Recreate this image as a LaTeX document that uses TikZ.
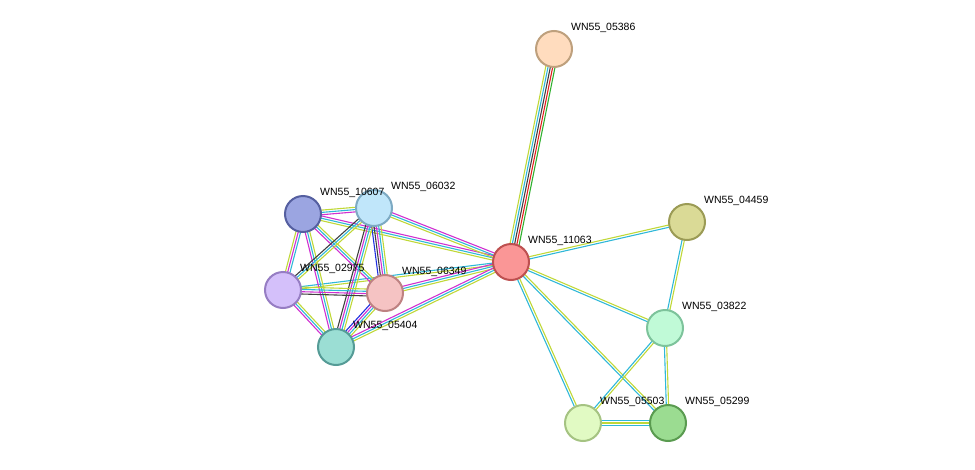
\documentclass[tikz,border=0pt]{standalone}
\usepackage{fontspec}
\setmainfont{Liberation Sans}
\usetikzlibrary{calc}
\definecolor{cmag}{HTML}{D030D0}
\definecolor{ccya}{HTML}{30B8D8}
\definecolor{cyel}{HTML}{C0D838}
\definecolor{cblk}{HTML}{404040}
\definecolor{cblu}{HTML}{2030E0}
\definecolor{cgrn}{HTML}{30B030}
\definecolor{cred}{HTML}{E02020}
\tikzset{
  prot/.style={circle,minimum size=36pt,inner sep=0pt,line width=2pt},
  lbl/.style={anchor=west,font=\fontsize{10.5}{12}\selectfont,inner sep=0pt}
}
% #1,#2 nodes, #3 number of lines, #4 colour list
\newcommand{\edge}[4]{%
  \foreach \c [count=\i] in {#4}{%
    \pgfmathsetmacro{\o}{(\i-(#3+1)/2)*2.3}
    \draw[\c,line width=1.1pt] ($(#1)!\o pt!90:(#2)$) -- ($(#2)!\o pt!-90:(#1)$);
  }}
\begin{document}
\begin{tikzpicture}[x=1pt,y=-1pt]
\useasboundingbox (0,0) rectangle (975,469);

\coordinate (n11063) at (511,262);
\coordinate (n05386) at (554,49);
\coordinate (n04459) at (687,222);
\coordinate (n10607) at (303,214);
\coordinate (n06032) at (374,208);
\coordinate (n02975) at (283,290);
\coordinate (n06349) at (385,293);
\coordinate (n05404) at (336,347);
\coordinate (n03822) at (665,328);
\coordinate (n05503) at (583,423);
\coordinate (n05299) at (668,423);

% edges
\edge{n11063}{n05386}{5}{cgrn,cred,cblk,ccya,cyel}
\edge{n11063}{n04459}{2}{ccya,cyel}
\edge{n11063}{n03822}{2}{ccya,cyel}
\edge{n11063}{n05503}{2}{ccya,cyel}
\edge{n11063}{n05299}{2}{ccya,cyel}
\edge{n04459}{n03822}{2}{ccya,cyel}
\edge{n03822}{n05503}{2}{ccya,cyel}
\edge{n03822}{n05299}{2}{ccya,cyel}
\edge{n05503}{n05299}{3}{ccya,cyel,ccya}
\edge{n11063}{n10607}{3}{cmag,ccya,cyel}
\edge{n11063}{n06032}{3}{cmag,ccya,cyel}
\edge{n11063}{n02975}{2}{ccya,cyel}
\edge{n11063}{n06349}{3}{cmag,ccya,cyel}
\edge{n11063}{n05404}{3}{cmag,ccya,cyel}
\edge{n10607}{n06032}{3}{cmag,ccya,cyel}
\edge{n10607}{n02975}{3}{cyel,cmag,ccya}
\edge{n10607}{n06349}{3}{cmag,ccya,cyel}
\edge{n10607}{n05404}{3}{cmag,ccya,cyel}
\edge{n06032}{n02975}{3}{cblk,ccya,cyel}
\edge{n06032}{n06349}{5}{cblu,cblk,cmag,ccya,cyel}
\edge{n06032}{n05404}{4}{cblk,cmag,ccya,cyel}
\edge{n02975}{n06349}{4}{cblk,cmag,ccya,cyel}
\edge{n02975}{n05404}{3}{cmag,ccya,cyel}
\edge{n06349}{n05404}{4}{cblu,cmag,ccya,cyel}

% proteins
\node[prot,fill={rgb,255:red,250;green,150;blue,150},draw={rgb,255:red,190;green,80;blue,80}] (p11063) at (n11063) {};
\node[prot,fill={rgb,255:red,255;green,220;blue,190},draw={rgb,255:red,190;green,160;blue,125}] (p05386) at (n05386) {};
\node[prot,fill={rgb,255:red,218;green,218;blue,150},draw={rgb,255:red,155;green,155;blue,85}] (p04459) at (n04459) {};
\node[prot,fill={rgb,255:red,155;green,165;blue,225},draw={rgb,255:red,85;green,95;blue,160}] (p10607) at (n10607) {};
\node[prot,fill={rgb,255:red,192;green,230;blue,250},draw={rgb,255:red,125;green,170;blue,195}] (p06032) at (n06032) {};
\node[prot,fill={rgb,255:red,212;green,192;blue,250},draw={rgb,255:red,150;green,125;blue,195}] (p02975) at (n02975) {};
\node[prot,fill={rgb,255:red,245;green,195;blue,195},draw={rgb,255:red,190;green,130;blue,130}] (p06349) at (n06349) {};
\node[prot,fill={rgb,255:red,155;green,222;blue,212},draw={rgb,255:red,85;green,155;blue,150}] (p05404) at (n05404) {};
\node[prot,fill={rgb,255:red,192;green,250;blue,215},draw={rgb,255:red,125;green,195;blue,155}] (p03822) at (n03822) {};
\node[prot,fill={rgb,255:red,225;green,250;blue,195},draw={rgb,255:red,165;green,195;blue,130}] (p05503) at (n05503) {};
\node[prot,fill={rgb,255:red,155;green,220;blue,145},draw={rgb,255:red,90;green,155;blue,80}] (p05299) at (n05299) {};

% labels
\foreach \n in {11063,05386,04459,10607,06032,02975,06349,05404,03822,05503,05299}
  \node[lbl] (l\n) at ($(n\n)+(17,-21)$) {WN55\_\n};
\end{tikzpicture}
\end{document}
